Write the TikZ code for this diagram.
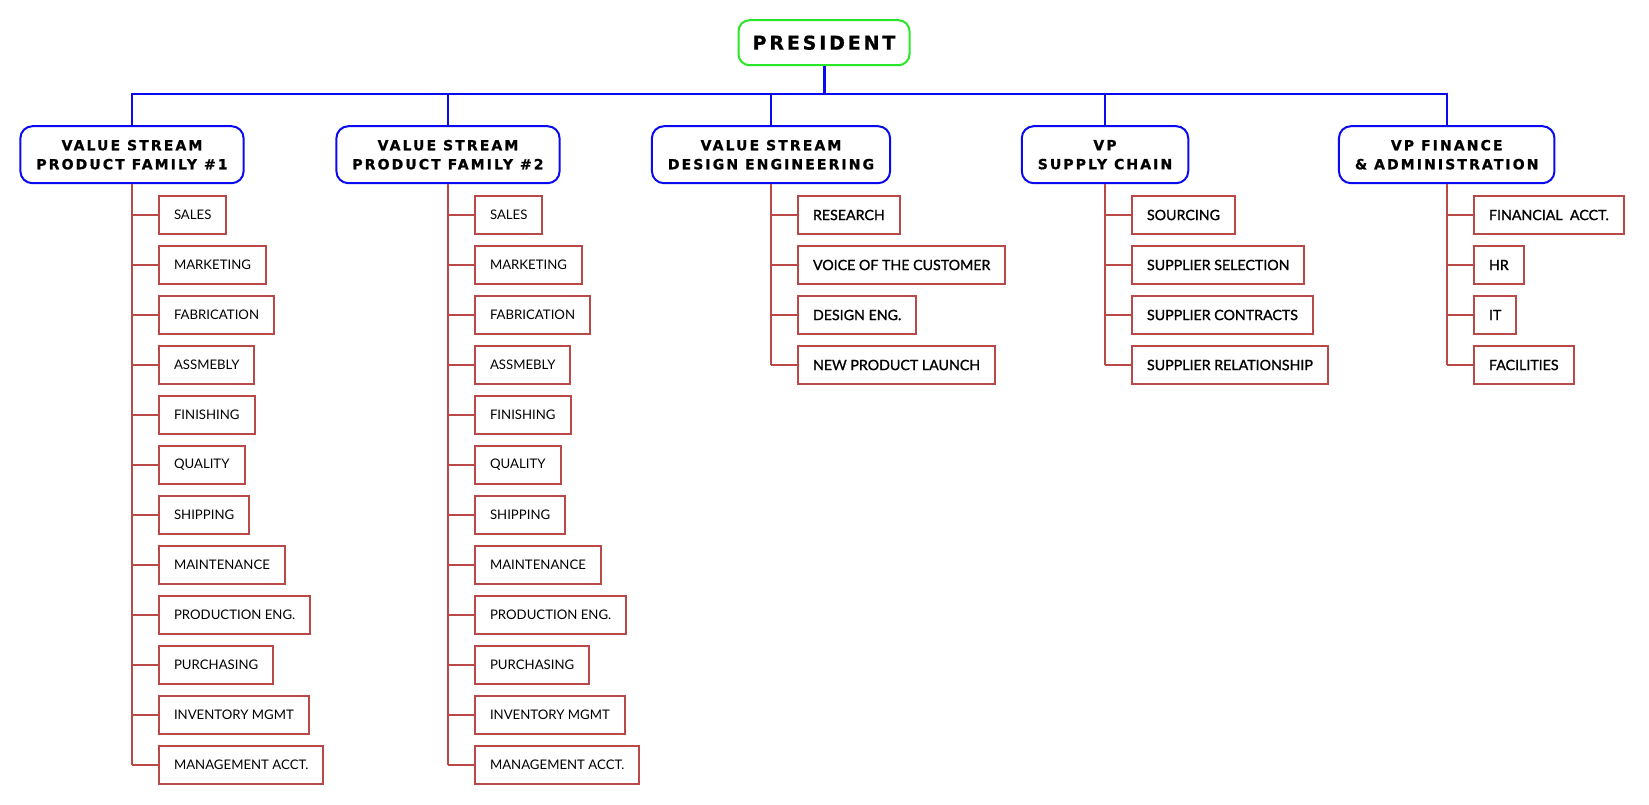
\documentclass[tikz,border=0pt]{standalone}
\usepackage{fontspec}
\setmainfont{Lato}
\newfontfamily\headfont[LetterSpace=15,FakeBold=1]{DejaVu Sans Bold}
\newfontfamily\leafbold[FakeBold=1.2]{Lato}
\usetikzlibrary{calc}
\definecolor{linkblue}{RGB}{10,10,240}
\definecolor{presgreen}{RGB}{40,230,40}
\definecolor{brick}{RGB}{186,72,70}

\begin{document}
\begin{tikzpicture}[x=1pt,y=-1pt,
    boss/.style={draw=presgreen,line width=2pt,rounded corners=11pt,minimum height=45pt,minimum width=171pt,font=\headfont\fontsize{19}{22}\selectfont},
    head/.style={draw=linkblue,line width=2pt,rounded corners=12pt,minimum height=57pt,inner xsep=16pt,align=center,font=\headfont\fontsize{14}{19}\selectfont},
    leaf/.style={draw=brick,line width=2pt,minimum height=38pt,inner xsep=15pt,anchor=west,font=\fontsize{13.2}{15}\selectfont},
    leafb/.style={leaf,font=\leafbold\fontsize{14.2}{16}\selectfont},
    bluelink/.style={draw=linkblue,line width=2pt},
    redlink/.style={draw=brick,line width=2.3pt}]
    \useasboundingbox (0,0) rectangle (1649,804);
    \node[boss] (pres) at (824,42.7) {PRESIDENT};
    \node[head] (pf1) at (132,154.7) {VALUE STREAM\\PRODUCT FAMILY \#1};
    \node[head] (pf2) at (448,154.7) {VALUE STREAM\\PRODUCT FAMILY \#2};
    \node[head] (de) at (771,154.7) {VALUE STREAM\\DESIGN ENGINEERING};
    \node[head] (sc) at (1105,154.7) {VP\\SUPPLY CHAIN};
    \node[head] (fin) at (1446.7,154.7) {VP FINANCE\\\& ADMINISTRATION};
    \coordinate (bus) at (824,94);
    \draw[bluelink,line width=3pt] (pres) -- (bus);
    \draw[bluelink] (pf1.north) |- (bus) -| (fin.north);
    \foreach \h in {pf2,de,sc}
        \draw[bluelink] (\h.north) -- (\h.north |- bus);
    % product family departments
    \foreach \t [count=\i] in {SALES,MARKETING,FABRICATION,ASSMEBLY,FINISHING,QUALITY,SHIPPING,MAINTENANCE,PRODUCTION ENG.,PURCHASING,INVENTORY MGMT,MANAGEMENT ACCT.}{
        \node[leaf] (pfa\i) at (158,{165+50*\i}) {\t};
        \node[leaf] (pfb\i) at (474,{165+50*\i}) {\t};
        \draw[redlink] (pfa\i.west) -- (pfa\i.west -| pf1.south);
        \draw[redlink] (pfb\i.west) -- (pfb\i.west -| pf2.south);
    }
    \draw[redlink] (pf1.south) -- (pf1.south |- pfa12.west);
    \draw[redlink] (pf2.south) -- (pf2.south |- pfb12.west);
    % the other three columns
    \foreach \t [count=\i] in {RESEARCH,VOICE OF THE CUSTOMER,DESIGN ENG.,NEW PRODUCT LAUNCH}{
        \node[leafb] (de\i) at (797,{165+50*\i}) {\t};
        \draw[redlink] (de\i.west) -- (de\i.west -| de.south);
    }
    \foreach \t [count=\i] in {SOURCING,SUPPLIER SELECTION,SUPPLIER CONTRACTS,SUPPLIER RELATIONSHIP}{
        \node[leafb] (sc\i) at (1131,{165+50*\i}) {\t};
        \draw[redlink] (sc\i.west) -- (sc\i.west -| sc.south);
    }
    \foreach \t [count=\i] in {FINANCIAL\ \ ACCT.,HR,IT,FACILITIES}{
        \node[leafb] (fin\i) at (1473,{165+50*\i}) {\t};
        \draw[redlink] (fin\i.west) -- (fin\i.west -| fin.south);
    }
    \draw[redlink] (de.south) -- (de.south |- de4.west);
    \draw[redlink] (sc.south) -- (sc.south |- sc4.west);
    \draw[redlink] (fin.south) -- (fin.south |- fin4.west);
\end{tikzpicture}
\end{document}
